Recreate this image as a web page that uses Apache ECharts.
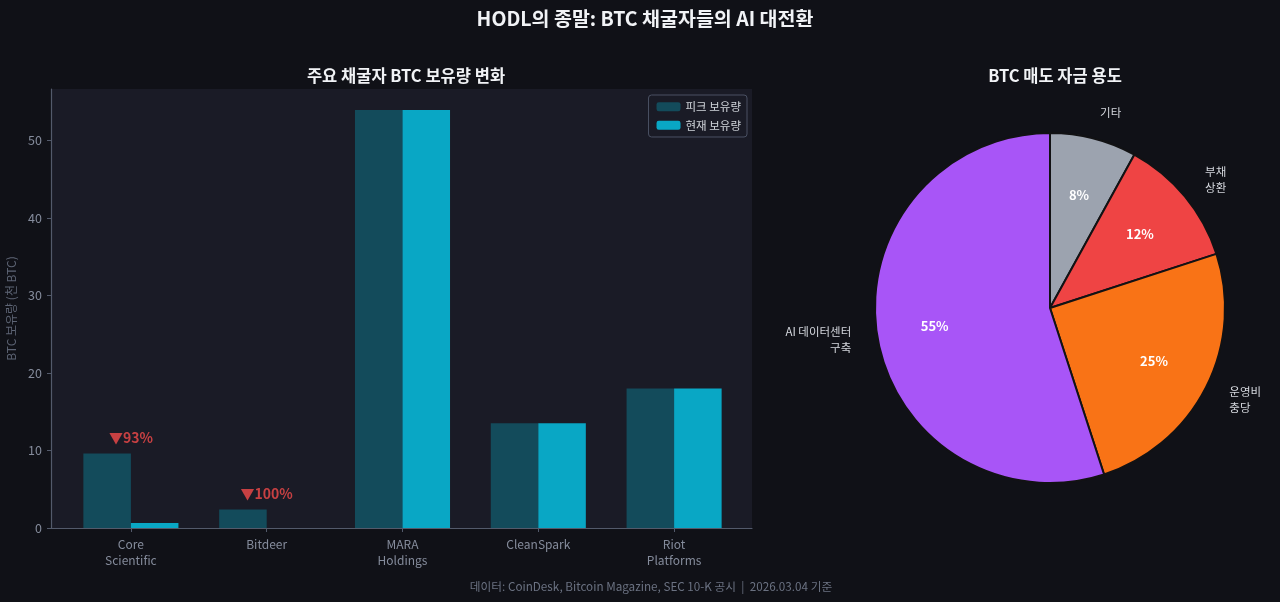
<!DOCTYPE html>
<html>
<head>
<meta charset="utf-8">
<script src="https://cdn.jsdelivr.net/npm/echarts@6/dist/echarts.min.js"></script>
<style>
  html, body { margin: 0; padding: 0; background: #101117; }
  #main { width: 1280px; height: 602px; }
</style>
</head>
<body>
<div id="main"></div>
<script>
'use strict'

// bar chart data (thousand BTC)
var miners = ['Core\nScientific', 'Bitdeer', 'MARA\nHoldings', 'CleanSpark', 'Riot\nPlatforms'];
var peakHoldings = [9.6, 2.4, 53.9, 13.5, 18.0];
var currentHoldings = [0.65, 0, 53.9, 13.5, 18.0];
var seriesNames = ['피크 보유량', '현재 보유량'];

// pie data (%)
var useNames = ['기타', '부채\n상환', '운영비\n충당', 'AI 데이터센터\n구축'];
var useShares = [8, 12, 25, 55];
var useColors = ['#9ca3af', '#ef4444', '#f97316', '#a855f7'];

var font = '"Noto Sans CJK KR", "Noto Sans", sans-serif';
var axisGray = '#535a6b';
var labelGray = '#858c9c';

var dom = document.getElementById('main');
var chart = echarts.init(dom);

// drop % annotations, only where holdings fell
var dropData = peakHoldings.map(function (p, i) {
    var drop = Math.round((1 - currentHoldings[i] / p) * 100);
    return drop > 0 ? { value: p, drop: drop } : { value: null };
});

var pieData = useNames.map(function (n, i) {
    return { name: n, value: useShares[i], itemStyle: { color: useColors[i] } };
});

var R = 175;

var option = {
    backgroundColor: '#101117',
    textStyle: { fontFamily: font },
    animation: false,
    title: [
        {
            text: 'HODL의 종말: BTC 채굴자들의 AI 대전환',
            left: 640, top: 4, textAlign: 'center',
            textStyle: { color: '#f1f3f6', fontSize: 19.5, fontWeight: 'bold', fontFamily: font }
        },
        {
            text: '주요 채굴자 BTC 보유량 변화',
            left: 401, top: 62, textAlign: 'center',
            textStyle: { color: '#f1f3f6', fontSize: 16.5, fontWeight: 'bold', fontFamily: font }
        },
        {
            text: 'BTC 매도 자금 용도',
            left: 1050, top: 62, textAlign: 'center',
            textStyle: { color: '#f1f3f6', fontSize: 16.5, fontWeight: 'bold', fontFamily: font }
        },
        {
            text: '데이터: CoinDesk, Bitcoin Magazine, SEC 10-K 공시  |  2026.03.04 기준',
            left: 646, top: 576, textAlign: 'center',
            textStyle: { color: '#6b7282', fontSize: 11.7, fontWeight: 'normal', fontFamily: font }
        }
    ],
    legend: {
        data: seriesNames,
        orient: 'vertical',
        right: 533, top: 95,
        itemWidth: 24, itemHeight: 9, itemGap: 7,
        padding: [6, 6, 6, 8],
        backgroundColor: '#1a1b26',
        borderColor: '#4a5163', borderWidth: 1, borderRadius: 3,
        textStyle: { color: '#d1d5db', fontSize: 11.5, fontFamily: font }
    },
    grid: [
        { left: 51, top: 89, width: 701, height: 439, show: true, backgroundColor: '#1a1b26', borderWidth: 0, outerBoundsMode: 'none', containLabel: false },
        { left: 63, top: 89, width: 679, height: 439, outerBoundsMode: 'none', containLabel: false }
    ],
    xAxis: [
        {
            gridIndex: 0, type: 'value', min: 0, max: 1,
            axisLine: { show: true, lineStyle: { color: axisGray, width: 1.2 } },
            axisTick: { show: false }, axisLabel: { show: false }, splitLine: { show: false }
        },
        {
            gridIndex: 1, type: 'category', data: miners,
            axisLine: { show: false },
            axisTick: { show: true, alignWithLabel: true, length: 4, lineStyle: { color: axisGray } },
            axisLabel: { color: labelGray, fontSize: 12, lineHeight: 16, margin: 8, fontFamily: font },
            splitLine: { show: false }
        }
    ],
    yAxis: [
        {
            gridIndex: 0, type: 'value', min: 0, max: 56.6, interval: 10,
            name: 'BTC 보유량 (천 BTC)', nameLocation: 'middle', nameGap: 29,
            nameTextStyle: { color: '#5d6474', fontSize: 12, fontFamily: font },
            axisLine: { show: true, lineStyle: { color: axisGray, width: 1.2 } },
            axisTick: { show: true, length: 4, lineStyle: { color: axisGray } },
            axisLabel: { color: labelGray, fontSize: 12.5, margin: 9, showMaxLabel: false, fontFamily: font },
            splitLine: { show: false }
        },
        {
            gridIndex: 1, type: 'value', min: 0, max: 56.6, show: false
        }
    ],
    series: [
        {
            name: seriesNames[0], type: 'bar',
            xAxisIndex: 1, yAxisIndex: 1,
            data: peakHoldings,
            barWidth: '35%', barGap: '0%',
            itemStyle: { color: '#134b5b' }
        },
        {
            name: seriesNames[1], type: 'bar',
            xAxisIndex: 1, yAxisIndex: 1,
            data: currentHoldings,
            barWidth: '35%', barGap: '0%',
            itemStyle: { color: '#09a7c5' }
        },
        {
            type: 'scatter',
            xAxisIndex: 1, yAxisIndex: 1,
            data: dropData,
            symbolSize: 0, silent: true,
            label: {
                show: true, position: 'top', distance: 9,
                color: '#f24a4a', fontSize: 14, fontWeight: 'bold', fontFamily: font,
                formatter: function (p) { return '▼' + p.data.drop + '%'; }
            }
        },
        {
            // slices with category names outside
            type: 'pie',
            center: [1050, 308], radius: R,
            startAngle: 90, clockwise: true,
            avoidLabelOverlap: false,
            data: pieData,
            itemStyle: { borderColor: '#121214', borderWidth: 2 },
            label: {
                show: true, position: 'outside',
                distanceToLabelLine: 0,
                color: '#d4d7dd', fontSize: 11.5, lineHeight: 16, fontFamily: font
            },
            labelLine: { show: false, length: R * 0.15, length2: 0 },
            emphasis: { disabled: true }
        },
        {
            // percentage labels at 0.65 radius
            type: 'pie',
            center: [1050, 308], radius: R * 1.3,
            startAngle: 90, clockwise: true,
            silent: true, z: 3,
            data: pieData.map(function (d) { return { name: d.name, value: d.value }; }),
            itemStyle: { color: 'rgba(0,0,0,0)', borderWidth: 0 },
            label: {
                show: true, position: 'inside', formatter: '{d}%',
                color: '#ffffff', fontSize: 13, fontWeight: 'bold', fontFamily: font
            },
            labelLine: { show: false },
            emphasis: { disabled: true }
        }
    ]
};

if (option && typeof option === 'object') {
    chart.setOption(option);
}
</script>
</body>
</html>
